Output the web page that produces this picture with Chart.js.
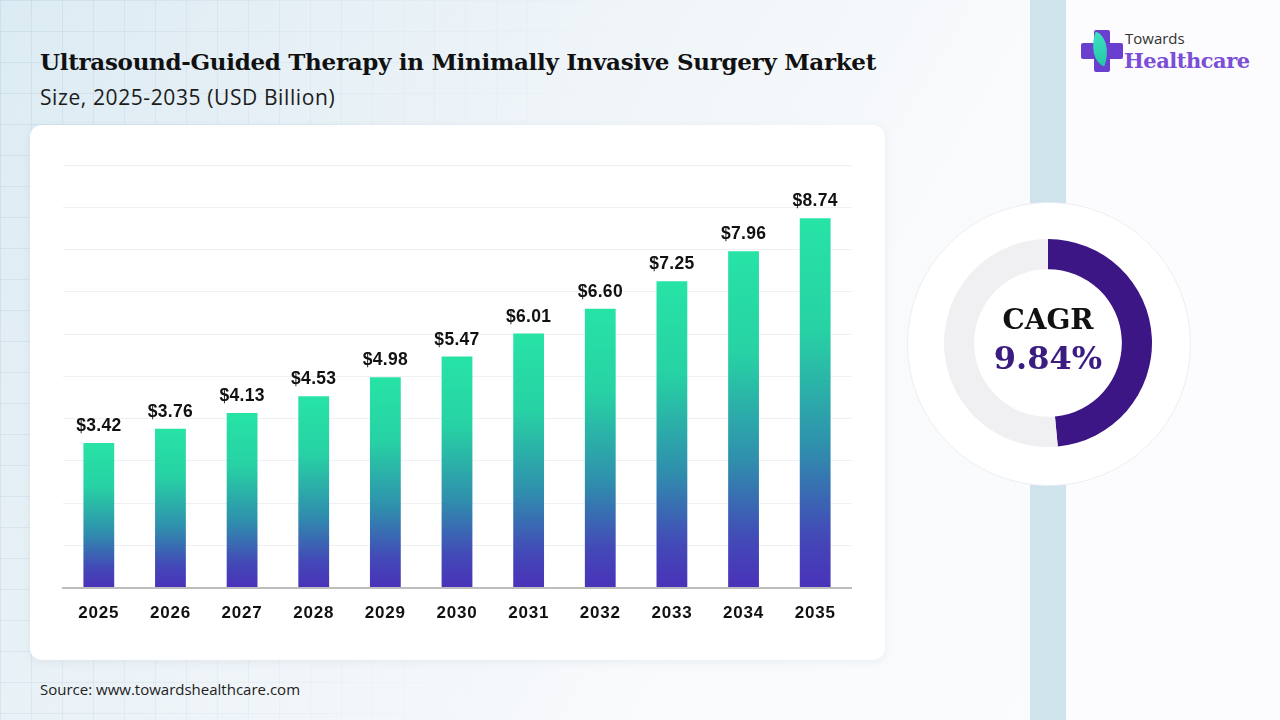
<!DOCTYPE html>
<html>
<head>
<meta charset="utf-8">
<script src="https://cdn.jsdelivr.net/npm/chart.js@4.4.1/dist/chart.umd.min.js"></script>
<style>
  html, body { margin: 0; padding: 0; }
  body {
    width: 1280px; height: 720px; position: relative; overflow: hidden;
    background: linear-gradient(120deg, #dcebf3 0%, #eef4f8 35%, #f8fafc 60%, #fbfcfd 100%);
    font-family: "Liberation Sans", Arial, sans-serif;
  }
  .grid {
    position: absolute; left: 0; top: 0; width: 1030px; height: 720px;
    background-image:
      linear-gradient(to right, rgba(190,210,222,0.5) 1px, transparent 1px),
      linear-gradient(to bottom, rgba(190,210,222,0.5) 1px, transparent 1px);
    background-size: 31px 31px;
    -webkit-mask-image: linear-gradient(100deg, rgba(0,0,0,0.9) 0%, rgba(0,0,0,0.35) 30%, rgba(0,0,0,0) 55%);
    mask-image: linear-gradient(100deg, rgba(0,0,0,0.9) 0%, rgba(0,0,0,0.35) 30%, rgba(0,0,0,0) 55%);
  }
  .stripe { position: absolute; left: 1030px; top: 0; width: 36px; height: 720px; background: #cfe3ec; }
  .side { position: absolute; left: 1066px; top: 0; width: 214px; height: 720px; background: #fcfbfd; }
  .title {
    position: absolute; left: 40px; top: 48px; margin: 0;
    font-family: "DejaVu Serif", "Liberation Serif", serif; font-weight: bold;
    font-size: 23px; color: #111; letter-spacing: -0.3px; white-space: nowrap;
  }
  .subtitle {
    position: absolute; left: 40px; top: 83px; margin: 0;
    font-family: "Open Sans", "Liberation Sans", sans-serif; font-size: 21px; color: #1c1c1c;
    letter-spacing: 0.6px; white-space: nowrap;
  }
  .card {
    position: absolute; left: 30px; top: 125px; width: 855px; height: 535px;
    background: #fff; border-radius: 12px; box-shadow: 0 2px 8px rgba(120,140,160,0.12);
  }
  #bars { position: absolute; left: 30px; top: 125px; }
  .source {
    position: absolute; left: 40px; top: 679px;
    font-family: "Open Sans", "Liberation Sans", sans-serif; font-size: 15px; color: #222;
  }
  .ring {
    position: absolute; left: 907px; top: 202px; width: 282px; height: 282px;
    border-radius: 50%; background: #fff; border: 1px solid #eceff2;
  }
  #cagr { position: absolute; left: 944px; top: 239px; }
  .cagr-txt {
    position: absolute; left: 968px; width: 160px; text-align: center;
    font-family: "DejaVu Serif", "Liberation Serif", serif; font-weight: bold;
  }
  .logo-cross-v { position: absolute; left: 1094px; top: 30px; width: 16px; height: 42px; background: #6a3fd0; border-radius: 2px; }
  .logo-cross-h { position: absolute; left: 1081px; top: 43px; width: 42px; height: 16px; background: #6a3fd0; border-radius: 2px; }
  .logo-leaf {
    position: absolute; left: 1090px; top: 34px; width: 20px; height: 30px;
    background: linear-gradient(160deg, #3fe0c0, #22c7a8);
    border-radius: 0 100% 0 100%; transform: rotate(20deg);
  }
  .logo-t1 { position: absolute; left: 1125px; top: 28px; font-family: "Open Sans", "Liberation Sans", sans-serif; font-size: 15px; color: #333; }
  .logo-t2 { position: absolute; left: 1124px; top: 48px; font-family: "DejaVu Serif", "Liberation Serif", serif; font-weight: bold; font-size: 21px; color: #7a4ed6; letter-spacing: -0.5px; }
</style>
</head>
<body>
<div class="grid"></div>
<div class="stripe"></div>
<div class="side"></div>

<div class="logo-cross-v"></div>
<div class="logo-cross-h"></div>
<div class="logo-leaf"></div>
<div class="logo-t1">Towards</div>
<div class="logo-t2">Healthcare</div>

<h1 class="title">Ultrasound-Guided Therapy in Minimally Invasive Surgery Market</h1>
<p class="subtitle">Size, 2025-2035 (USD Billion)</p>

<div class="card"></div>
<canvas id="bars" width="855" height="535" style="width:855px;height:535px"></canvas>

<div class="ring"></div>
<canvas id="cagr" width="208" height="208" style="width:208px;height:208px"></canvas>
<div class="cagr-txt" style="top:303px;font-size:28px;color:#111;">CAGR</div>
<div class="cagr-txt" style="top:339px;font-size:32px;color:#3b1c80;">9.84%</div>

<div class="source">Source: www.towardshealthcare.com</div>

<script>
const years = ['2025', '2026', '2027', '2028', '2029', '2030', '2031', '2032', '2033', '2034', '2035'];
const marketSize = [3.42, 3.76, 4.13, 4.53, 4.98, 5.47, 6.01, 6.60, 7.25, 7.96, 8.74];
const cagrLabels = ['CAGR', 'Rest'];
const cagrArc = [48.5, 51.5];

// gradient per bar, from its top down to the axis
function barFill(ctx) {
  const chart = ctx.chart;
  if (!chart.chartArea || ctx.dataIndex === undefined) return '#2ab0a8';
  const y = chart.scales.y;
  const top = y.getPixelForValue(ctx.raw);
  const bottom = y.getPixelForValue(0);
  const g = chart.ctx.createLinearGradient(0, top, 0, bottom);
  g.addColorStop(0, '#27e3a6');
  g.addColorStop(0.3, '#27d2a4');
  g.addColorStop(0.62, '#2f8fad');
  g.addColorStop(0.86, '#4349b7');
  g.addColorStop(1, '#4a32b9');
  return g;
}

// slightly wider lettering for the year ticks
const spacing = {
  id: 'spacing',
  beforeDraw(chart) { chart.ctx.letterSpacing = '0.8px'; }
};

const valueLabels = {
  id: 'valueLabels',
  afterDatasetsDraw(chart) {
    const { ctx } = chart;
    const meta = chart.getDatasetMeta(0);
    ctx.save();
    ctx.letterSpacing = '0.3px';
    ctx.font = 'bold 17.5px "Liberation Sans", Arial, sans-serif';
    ctx.fillStyle = '#111';
    ctx.textAlign = 'center';
    ctx.textBaseline = 'bottom';
    meta.data.forEach((bar, i) => {
      ctx.fillText('$' + marketSize[i].toFixed(2), bar.x, bar.y - 8);
    });
    ctx.restore();
  }
};

new Chart(document.getElementById('bars'), {
  type: 'bar',
  data: {
    labels: years,
    datasets: [{
      data: marketSize,
      backgroundColor: barFill,
      barPercentage: 0.43,
      categoryPercentage: 1
    }]
  },
  options: {
    responsive: false,
    animation: false,
    layout: { padding: { left: 33, right: 34, top: 40, bottom: 28 } },
    plugins: { legend: { display: false }, tooltip: { enabled: false } },
    scales: {
      x: {
        grid: { display: false },
        border: { color: '#bdbdbd', width: 2 },
        ticks: {
          color: '#111',
          padding: 8,
          font: { family: '"Liberation Sans", Arial, sans-serif', size: 17, weight: 'bold' }
        }
      },
      y: {
        min: 0,
        max: 10,
        ticks: { display: false, stepSize: 1 },
        border: { display: false },
        grid: { color: '#eef0f3', lineWidth: 1, drawTicks: false }
      }
    }
  },
  plugins: [spacing, valueLabels]
});

new Chart(document.getElementById('cagr'), {
  type: 'doughnut',
  data: {
    labels: cagrLabels,
    datasets: [{
      data: cagrArc,
      backgroundColor: ['#3d1686', '#f0eff1'],
      borderWidth: 0
    }]
  },
  options: {
    responsive: false,
    animation: false,
    cutout: '71%',
    plugins: { legend: { display: false }, tooltip: { enabled: false } }
  }
});
</script>
</body>
</html>
